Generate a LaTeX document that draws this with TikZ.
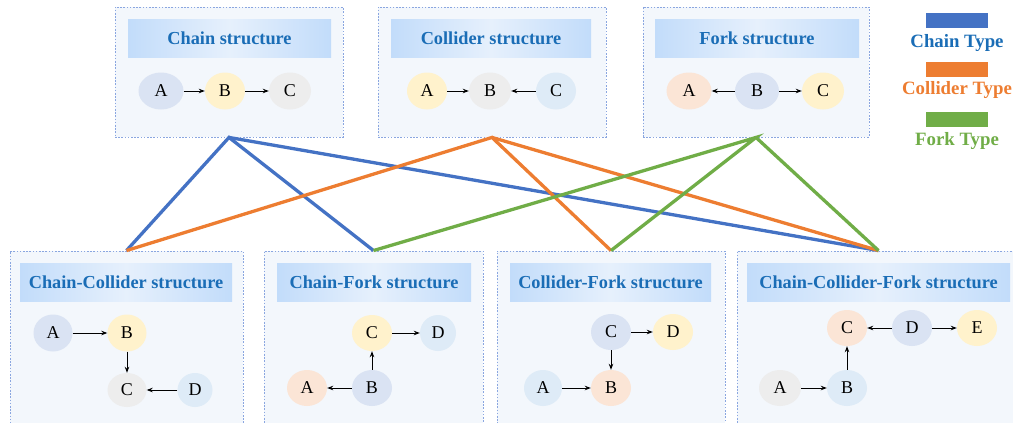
\documentclass[tikz,border=0pt]{standalone}
\usepackage{fontspec}
\setmainfont{Liberation Serif}
\usetikzlibrary{shapes.geometric,arrows.meta}
\definecolor{cBlue}{HTML}{4472C4}
\definecolor{cOrange}{HTML}{ED7D31}
\definecolor{cGreen}{HTML}{70AD47}
\definecolor{titleC}{HTML}{1A6DB6}
\definecolor{boxbg}{HTML}{F3F7FC}
\definecolor{boxline}{HTML}{8AA6E0}
\definecolor{bandA}{HTML}{C2DCFA}
\definecolor{bandB}{HTML}{E6F0FC}
\definecolor{nLav}{HTML}{DAE3F3}
\definecolor{nYel}{HTML}{FFF2CC}
\definecolor{nGray}{HTML}{EDEDED}
\definecolor{nLBlue}{HTML}{DEEBF7}
\definecolor{nPeach}{HTML}{FBE5D6}
\tikzset{
  panel/.style={draw=boxline, fill=boxbg, line width=0.9pt, dash pattern=on 1.6pt off 1.6pt, inner sep=0pt, rectangle},
  band/.style={rectangle, inner sep=0pt, left color=bandA, right color=bandA, middle color=bandB, minimum height=38pt,
    text=titleC, font=\fontsize{18.3}{20}\selectfont\bfseries},
  vnode/.style={ellipse, inner sep=0pt, minimum width=41pt, minimum height=37pt, font=\fontsize{18}{20}\selectfont},
  arr/.style={-{Stealth[length=6pt,width=4.5pt]}, line width=0.9pt, black},
  link/.style={line width=3.3pt, line join=miter},
  legbar/.style={rectangle, inner sep=0pt, minimum width=62pt, minimum height=15pt},
  legtext/.style={font=\fontsize{18.8}{20}\selectfont\bfseries, inner sep=0pt}
}
\begin{document}
\begin{tikzpicture}[x=1pt,y=-1pt]
\useasboundingbox (0,0) rectangle (1013,423);
\clip (0,0) rectangle (1013,423);
% top panels
\node[panel, minimum width=228pt, minimum height=130pt] (p1) at (229,72) {};
\node[panel, minimum width=228pt, minimum height=130pt] (p2) at (492,72) {};
\node[panel, minimum width=226pt, minimum height=130pt] (p3) at (756,72) {};
% bottom panels
\node[panel, minimum width=233pt, minimum height=179pt] (p4) at (126.5,340.5) {};
\node[panel, minimum width=219pt, minimum height=179pt] (p5) at (373.5,340.5) {};
\node[panel, minimum width=228pt, minimum height=179pt] (p6) at (611,340.5) {};
\node[panel, minimum width=283pt, minimum height=179pt] (p7) at (878.5,340.5) {};
% titles
\node[band, minimum width=203pt] (t1) at (229.5,38) {Chain structure};
\node[band, minimum width=200pt] (t2) at (491,38) {Collider structure};
\node[band, minimum width=204pt] (t3) at (757,38) {Fork structure};
\node[band, minimum width=212pt] (t4) at (126,282) {Chain-Collider structure};
\node[band, minimum width=194pt] (t5) at (374,282) {Chain-Fork structure};
\node[band, minimum width=201pt] (t6) at (610.5,282) {Collider-Fork structure};
\node[band, minimum width=263pt] (t7) at (878.5,282) {Chain-Collider-Fork structure};
% chain
\node[vnode, fill=nLav, minimum width=45pt] (a1) at (161,91) {A};
\node[vnode, fill=nYel, minimum width=40pt] (b1) at (225,91) {B};
\node[vnode, fill=nGray, minimum width=42pt] (c1) at (290,91) {C};
\draw[arr] (a1) -- (b1);
\draw[arr] (b1) -- (c1);
% collider
\node[vnode, fill=nYel, minimum width=40pt] (a2) at (427,91) {A};
\node[vnode, fill=nGray, minimum width=42pt] (b2) at (490,91) {B};
\node[vnode, fill=nLBlue, minimum width=40pt] (c2) at (556,91) {C};
\draw[arr] (a2) -- (b2);
\draw[arr] (c2) -- (b2);
% fork
\node[vnode, fill=nPeach, minimum width=45pt] (a3) at (689,91) {A};
\node[vnode, fill=nLav, minimum width=44pt] (b3) at (757,91) {B};
\node[vnode, fill=nYel, minimum width=42pt] (c3) at (823,91) {C};
\draw[arr] (b3) -- (a3);
\draw[arr] (b3) -- (c3);
% chain-collider
\node[vnode, fill=nLav, minimum width=39pt] (a4) at (53,333) {A};
\node[vnode, fill=nYel, minimum width=39pt] (b4) at (127,333) {B};
\node[vnode, fill=nGray, minimum width=39pt, minimum height=34pt] (c4) at (127,390) {C};
\node[vnode, fill=nLBlue, minimum width=35pt, minimum height=34pt] (d4) at (195,390) {D};
\draw[arr] (a4) -- (b4);
\draw[arr] (b4) -- (c4);
\draw[arr] (d4) -- (c4);
% chain-fork
\node[vnode, fill=nYel, minimum width=40pt, minimum height=36pt] (c5) at (372,333) {C};
\node[vnode, fill=nLBlue, minimum width=36pt, minimum height=36pt] (d5) at (438,333) {D};
\node[vnode, fill=nPeach, minimum width=40pt, minimum height=36pt] (a5) at (307,388) {A};
\node[vnode, fill=nLav, minimum width=40pt, minimum height=36pt] (b5) at (372,388) {B};
\draw[arr] (c5) -- (d5);
\draw[arr] (b5) -- (c5);
\draw[arr] (b5) -- (a5);
% collider-fork
\node[vnode, fill=nLav, minimum width=40pt, minimum height=36pt] (c6) at (611,332) {C};
\node[vnode, fill=nYel, minimum width=40pt, minimum height=36pt] (d6) at (673,332) {D};
\node[vnode, fill=nLBlue, minimum width=38pt, minimum height=36pt] (a6) at (543,388) {A};
\node[vnode, fill=nPeach, minimum width=40pt, minimum height=36pt] (b6) at (611,388) {B};
\draw[arr] (c6) -- (d6);
\draw[arr] (c6) -- (b6);
\draw[arr] (a6) -- (b6);
% chain-collider-fork
\node[vnode, fill=nPeach, minimum width=40pt, minimum height=36pt] (c7) at (847,328) {C};
\node[vnode, fill=nLav, minimum width=40pt, minimum height=36pt] (d7) at (912,328) {D};
\node[vnode, fill=nYel, minimum width=40pt, minimum height=36pt] (e7) at (977,328) {E};
\node[vnode, fill=nGray, minimum width=42pt, minimum height=36pt] (a7) at (780,388) {A};
\node[vnode, fill=nLBlue, minimum width=40pt, minimum height=36pt] (b7) at (847,388) {B};
\draw[arr] (d7) -- (c7);
\draw[arr] (d7) -- (e7);
\draw[arr] (a7) -- (b7);
\draw[arr] (b7) -- (c7);
% links
\draw[link, cBlue] (p4.north) -- (p1.south) -- (p5.north);
\draw[link, cBlue] (p1.south) -- (p7.north);
\draw[link, cOrange] (p4.north) -- (p2.south) -- (p6.north);
\draw[link, cOrange] (p2.south) -- (p7.north);
\draw[link, cGreen] (p5.north) -- (p3.south) -- (p6.north);
\draw[link, cGreen] (p3.south) -- (p7.north);
% legend
\node[legbar, fill=cBlue] (lb1) at (957,20.5) {};
\node[legtext, text=titleC] (lt1) at (957,43) {Chain Type};
\node[legbar, fill=cOrange] (lb2) at (957,69.5) {};
\node[legtext, text=cOrange] (lt2) at (957,90) {Collider Type};
\node[legbar, fill=cGreen] (lb3) at (957,119.5) {};
\node[legtext, text=cGreen] (lt3) at (957,141) {Fork Type};
\end{tikzpicture}
\end{document}
